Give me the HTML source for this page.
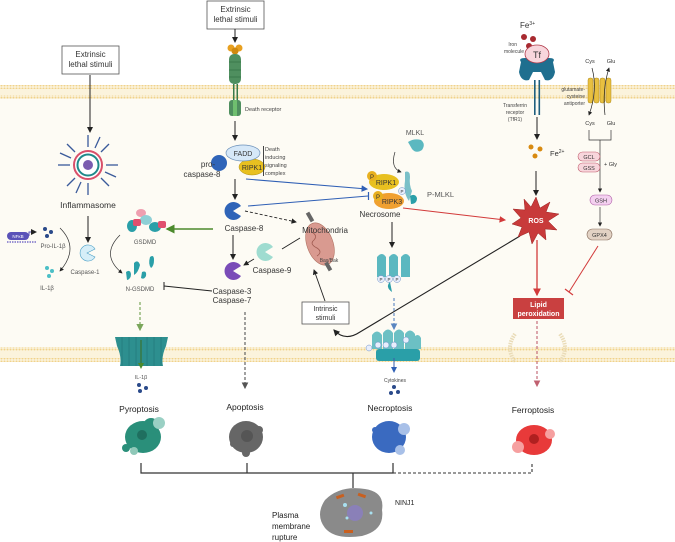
<!DOCTYPE html>
<html><head><meta charset="utf-8"><style>
html,body{margin:0;padding:0;background:#fff;}
svg{display:block;font-family:"Liberation Sans",sans-serif;}
</style></head><body>
<svg width="675" height="542" viewBox="0 0 675 542" xmlns="http://www.w3.org/2000/svg">
<defs>
<marker id="ak" markerWidth="6" markerHeight="6" refX="5" refY="3" orient="auto"><path d="M0,0 L6,3 L0,6 z" fill="#222"/></marker>
<marker id="ab" markerWidth="6" markerHeight="6" refX="5" refY="3" orient="auto"><path d="M0,0 L6,3 L0,6 z" fill="#2f5fb5"/></marker>
<marker id="ar" markerWidth="6" markerHeight="6" refX="5" refY="3" orient="auto"><path d="M0,0 L6,3 L0,6 z" fill="#d23a3a"/></marker>
<marker id="ag" markerWidth="6" markerHeight="6" refX="5" refY="3" orient="auto"><path d="M0,0 L6,3 L0,6 z" fill="#4c8a2c"/></marker>
<marker id="agd" markerWidth="6" markerHeight="6" refX="5" refY="3" orient="auto"><path d="M0,0 L6,3 L0,6 z" fill="#7aa65a"/></marker>
<marker id="abl" markerWidth="6" markerHeight="6" refX="5" refY="3" orient="auto"><path d="M0,0 L6,3 L0,6 z" fill="#5a86c0"/></marker>
<marker id="arl" markerWidth="6" markerHeight="6" refX="5" refY="3" orient="auto"><path d="M0,0 L6,3 L0,6 z" fill="#c06070"/></marker>
<marker id="ag2" markerWidth="6" markerHeight="6" refX="5" refY="3" orient="auto"><path d="M0,0 L6,3 L0,6 z" fill="#555"/></marker>
<pattern id="mem" width="3" height="3" patternUnits="userSpaceOnUse"><circle cx="1.5" cy="1.5" r="1" fill="#f1d28a"/></pattern>
</defs>

<!-- cell interior -->
<rect x="0" y="99" width="675" height="248" fill="#fdfbf4"/>
<!-- membranes -->
<rect x="0" y="85" width="675" height="14" fill="#fbf3dc"/>
<rect x="0" y="85" width="675" height="4" fill="url(#mem)"/>
<rect x="0" y="95" width="675" height="4" fill="url(#mem)"/>
<rect x="0" y="347" width="675" height="15" fill="#fbf3dc"/>
<rect x="0" y="347" width="675" height="4" fill="url(#mem)"/>
<rect x="0" y="358" width="675" height="4" fill="url(#mem)"/>

<!-- Extrinsic boxes -->
<rect x="62" y="46" width="57" height="28" fill="#fff" stroke="#555" stroke-width="0.8"/>
<text x="90.5" y="57" font-size="8" text-anchor="middle" fill="#333">Extrinsic</text>
<text x="90.5" y="67" font-size="8" text-anchor="middle" fill="#333">lethal stimuli</text>
<rect x="207" y="1" width="57" height="28" fill="#fff" stroke="#555" stroke-width="0.8"/>
<text x="235.5" y="12" font-size="8" text-anchor="middle" fill="#333">Extrinsic</text>
<text x="235.5" y="22" font-size="8" text-anchor="middle" fill="#333">lethal stimuli</text>

<line x1="90" y1="75" x2="90" y2="132" stroke="#222" stroke-width="1" marker-end="url(#ak)"/>
<line x1="235" y1="29" x2="235" y2="42" stroke="#222" stroke-width="1" marker-end="url(#ak)"/>

<!-- inflammasome -->
<g transform="translate(88,165)" stroke="#3a5a9a" stroke-width="1.3">
<line x1="0" y1="-30" x2="0" y2="-18"/><line x1="21" y1="-21" x2="13" y2="-13"/><line x1="30" y1="0" x2="18" y2="0"/><line x1="21" y1="21" x2="13" y2="13"/><line x1="0" y1="30" x2="0" y2="18"/><line x1="-21" y1="21" x2="-13" y2="13"/><line x1="-30" y1="0" x2="-18" y2="0"/><line x1="-21" y1="-21" x2="-13" y2="-13"/>
<line x1="12" y1="-28" x2="7" y2="-17"/><line x1="28" y1="12" x2="17" y2="7"/><line x1="-12" y1="28" x2="-7" y2="17"/><line x1="-28" y1="-12" x2="-17" y2="-7"/>
</g>
<circle cx="88" cy="165" r="14" fill="#fff" stroke="#d9506a" stroke-width="2"/>
<circle cx="88" cy="165" r="10.5" fill="none" stroke="#1f8a8a" stroke-width="2"/>
<circle cx="88" cy="165" r="5" fill="#7a5cb0"/>
<text x="88" y="208" font-size="8.5" text-anchor="middle" fill="#333">Inflammasome</text>
<line x1="88" y1="216" x2="88" y2="242" stroke="#222" stroke-width="1" marker-end="url(#ak)"/>
<path d="M87,253 m8,-4 A8,8 0 1 0 95,257 L87,253 z" fill="#d6eef8" stroke="#4a9fc6" stroke-width="0.6"/>
<text x="85" y="274" font-size="6" text-anchor="middle" fill="#555">Caspase-1</text>

<!-- NF-kB -->
<rect x="7" y="232" width="22" height="8" rx="4" fill="#5a52b8"/>
<text x="18" y="238" font-size="4.5" text-anchor="middle" fill="#fff">NFκB</text>
<path d="M29,236 L29,232 L36,232" stroke="#5a52b8" fill="none" stroke-width="1" marker-end="url(#ak)"/>
<path d="M7,242 L36,242" stroke="#7a70c8" stroke-width="1.5" stroke-dasharray="1.5,1"/>
<circle cx="45" cy="229" r="2" fill="#2a4a8a"/><circle cx="51" cy="232" r="2" fill="#2a4a8a"/><circle cx="47" cy="236" r="2" fill="#2a4a8a"/>
<text x="53" y="248" font-size="6" text-anchor="middle" fill="#555">Pro-IL-1β</text>
<path d="M60,228 Q80,248 60,271" fill="none" stroke="#333" stroke-width="0.7" marker-end="url(#ak)"/>
<circle cx="47" cy="268" r="2" fill="#4bbfc6"/><circle cx="52" cy="271" r="2" fill="#4bbfc6"/><circle cx="49" cy="276" r="2" fill="#4bbfc6"/>
<text x="47" y="290" font-size="6" text-anchor="middle" fill="#555">IL-1β</text>

<!-- GSDMD -->
<ellipse cx="141" cy="213" rx="5" ry="4" fill="#ef9fb0"/>
<ellipse cx="146" cy="220" rx="6" ry="5" fill="#8ed0d6"/>
<ellipse cx="132" cy="226" rx="5" ry="6" fill="#2a9fa8"/><rect x="133" y="219" width="8" height="7" rx="2" fill="#e0506e"/>
<ellipse cx="155" cy="227" rx="6" ry="5" fill="#2a9fa8"/><rect x="158" y="221" width="8" height="7" rx="2" fill="#e0506e"/>
<text x="145" y="244" font-size="6" text-anchor="middle" fill="#555">GSDMD</text>
<path d="M120,235 Q100,255 122,273" fill="none" stroke="#333" stroke-width="0.7" marker-end="url(#ak)"/>
<path d="M134,263 q4,-4 6,2 q-2,8 -6,10" fill="#2a9fa8"/>
<path d="M150,257 q4,-3 4,3 q0,6 -3,8 q-3,-4 -1,-11z" fill="#2a9fa8"/>
<path d="M126,272 q4,-3 5,2 q0,5 -4,6z" fill="#2a9fa8"/>
<path d="M142,272 q5,-2 4,4 q-2,4 -5,2z" fill="#2a9fa8"/>
<text x="140" y="291" font-size="6" text-anchor="middle" fill="#555">N-GSDMD</text>
<line x1="213" y1="229" x2="167" y2="229" stroke="#4c8a2c" stroke-width="1.5" marker-end="url(#ag)"/>
<line x1="212" y1="291" x2="164" y2="286" stroke="#222" stroke-width="0.9"/>
<line x1="164" y1="282" x2="164" y2="290" stroke="#222" stroke-width="1"/>
<line x1="140" y1="302" x2="140" y2="330" stroke="#7aa65a" stroke-width="1.2" stroke-dasharray="3,2" marker-end="url(#agd)"/>

<!-- GSDMD pore -->
<path d="M115,337 L168,337 L166,346 Q161,357 163,366 L120,366 Q122,357 117,346 z" fill="#2d8f8f"/>
<g stroke="#1f6f70" stroke-width="0.5"><line x1="122" y1="337" x2="122" y2="366"/><line x1="129" y1="337" x2="129" y2="366"/><line x1="136" y1="337" x2="136" y2="366"/><line x1="147" y1="337" x2="147" y2="366"/><line x1="154" y1="337" x2="154" y2="366"/><line x1="161" y1="337" x2="161" y2="366"/></g>
<line x1="141" y1="340" x2="141" y2="368" stroke="#3d6e1e" stroke-width="1" marker-end="url(#ag)"/>
<text x="141" y="379" font-size="5.5" text-anchor="middle" fill="#555">IL-1β</text>
<circle cx="139" cy="385" r="2" fill="#2a4a8a"/><circle cx="146" cy="388" r="2" fill="#2a4a8a"/><circle cx="140" cy="391" r="2" fill="#2a4a8a"/>

<!-- Death receptor -->
<circle cx="231" cy="48" r="3.5" fill="#e8a020"/><circle cx="239" cy="48" r="3.5" fill="#e8a020"/><circle cx="235" cy="51" r="3.5" fill="#d08a10"/>
<rect x="229" y="54" width="12" height="30" rx="5" fill="#4f8f5f"/>
<g stroke="#2e6b3e" stroke-width="0.6"><line x1="229" y1="62" x2="241" y2="62"/><line x1="229" y1="70" x2="241" y2="70"/><line x1="229" y1="77" x2="241" y2="77"/></g>
<rect x="233" y="84" width="1.5" height="16" fill="#3a7a4a"/><rect x="236.5" y="84" width="1.5" height="16" fill="#3a7a4a"/>
<rect x="229" y="100" width="12" height="16" rx="3" fill="#4f8f5f"/>
<rect x="233" y="100" width="4" height="16" fill="#6fbf6f"/>
<text x="245" y="111" font-size="5.5" fill="#444">Death receptor</text>
<line x1="235" y1="121" x2="235" y2="140" stroke="#222" stroke-width="1" marker-end="url(#ak)"/>
<circle cx="219" cy="163" r="8" fill="#2f64b8"/>
<ellipse cx="252" cy="167" rx="13" ry="8" fill="#e8c020" stroke="#b09010" stroke-width="0.5"/>
<text x="252" y="170" font-size="7" text-anchor="middle" fill="#333">RIPK1</text>
<ellipse cx="243" cy="153" rx="17" ry="8" fill="#d6e8f8" stroke="#6a8fb8" stroke-width="0.7"/>
<text x="243" y="156" font-size="7" text-anchor="middle" fill="#333">FADD</text>
<text x="208" y="167" font-size="8" text-anchor="middle" fill="#333">pro-</text>
<text x="202" y="177" font-size="8" text-anchor="middle" fill="#333">caspase-8</text>
<line x1="263.5" y1="146" x2="263.5" y2="176" stroke="#444" stroke-width="1"/>
<text x="265" y="151" font-size="5.5" fill="#444">Death</text>
<text x="265" y="159" font-size="5.5" fill="#444">inducing</text>
<text x="265" y="167" font-size="5.5" fill="#444">signaling</text>
<text x="265" y="175" font-size="5.5" fill="#444">complex</text>
<line x1="235" y1="179" x2="235" y2="199" stroke="#222" stroke-width="1" marker-end="url(#ak)"/>
<!-- blue lines -->
<line x1="246" y1="179" x2="367" y2="189" stroke="#2f5fb5" stroke-width="1.1" marker-end="url(#ab)"/>
<line x1="248" y1="206" x2="368" y2="196" stroke="#2f5fb5" stroke-width="1.1"/>
<line x1="368.5" y1="192" x2="368.5" y2="200" stroke="#2f5fb5" stroke-width="1.2"/>

<!-- Caspase-8 -->
<path d="M233,211 m8,-5 A9,9 0 1 0 241,216 L233,211 z" fill="#2f64b8"/>
<text x="244" y="231" font-size="8" text-anchor="middle" fill="#333">Caspase-8</text>
<line x1="245" y1="211" x2="296" y2="222" stroke="#222" stroke-width="0.9" stroke-dasharray="3,2" marker-end="url(#ak)"/>
<line x1="233" y1="235" x2="233" y2="259" stroke="#222" stroke-width="1" marker-end="url(#ak)"/>
<path d="M233,271 m8,-5 A9,9 0 1 0 241,276 L233,271 z" fill="#7a4cb8"/>
<text x="232" y="294" font-size="8" text-anchor="middle" fill="#333">Caspase-3</text>
<text x="232" y="303" font-size="8" text-anchor="middle" fill="#333">Caspase-7</text>
<path d="M265,252 m8,-5 A9,9 0 1 0 273,257 L265,252 z" fill="#9fdcd0"/>
<text x="272" y="273" font-size="8" text-anchor="middle" fill="#333">Caspase-9</text>
<line x1="254" y1="259" x2="244" y2="265" stroke="#222" stroke-width="0.9" marker-end="url(#ak)"/>
<line x1="300" y1="238" x2="282" y2="249" stroke="#222" stroke-width="0.9"/>
<line x1="245" y1="312" x2="245" y2="388" stroke="#555" stroke-width="1.1" stroke-dasharray="3,2" marker-end="url(#ag2)"/>

<!-- Mitochondria -->
<ellipse cx="320" cy="244" rx="13" ry="22" transform="rotate(-20 320 244)" fill="#d99a90" stroke="#b07060" stroke-width="0.6"/>
<path d="M312,232 q6,4 2,8 q-5,4 3,8 q6,4 0,8" fill="none" stroke="#a05a50" stroke-width="0.8"/>
<rect x="308" y="212" width="4" height="10" fill="#666" transform="rotate(-30 310 217)"/>
<rect x="326" y="262" width="4" height="9" fill="#666" transform="rotate(-30 328 266)"/>
<text x="325" y="233" font-size="8" text-anchor="middle" fill="#333">Mitochondria</text>
<text x="329" y="262" font-size="5" text-anchor="middle" fill="#444">Bax/Bak</text>
<rect x="302" y="302" width="47" height="22" fill="#fff" stroke="#555" stroke-width="0.8"/>
<text x="325.5" y="311" font-size="7" text-anchor="middle" fill="#333">Intrinsic</text>
<text x="325.5" y="320" font-size="7" text-anchor="middle" fill="#333">stimuli</text>
<line x1="325" y1="301" x2="314" y2="270" stroke="#222" stroke-width="0.9" marker-end="url(#ak)"/>
<path d="M520,236 L360,332 Q345,342 334,330" fill="none" stroke="#222" stroke-width="1.1" marker-end="url(#ak)"/>

<!-- Necrosome -->
<text x="415" y="135" font-size="7" text-anchor="middle" fill="#555">MLKL</text>
<path d="M408,142 q6,-4 13,-2 q5,4 1,10 q-6,4 -10,-1z" fill="#5bb8c0"/>
<path d="M395,152 Q390,168 401,172" fill="none" stroke="#333" stroke-width="0.7" marker-end="url(#ak)"/>
<path d="M405,172 q5,-2 5,5 q-1,8 2,14 l-3,10 q-6,-8 -4,-20z" fill="#7ac0c8"/>
<path d="M410,196 q5,-3 7,2 q0,6 -6,6z" fill="#2a9fa8"/>
<text x="427" y="197" font-size="7.5" fill="#555">P-MLKL</text>
<ellipse cx="389" cy="201" rx="15" ry="8" fill="#f0a030"/>
<text x="392" y="204" font-size="7" text-anchor="middle" fill="#333">RIPK3</text>
<circle cx="378" cy="196" r="5" fill="#e8b020"/><text x="378" y="199" font-size="6" text-anchor="middle" fill="#333">P</text>
<ellipse cx="384" cy="182" rx="15" ry="8" fill="#e8c020"/>
<text x="386" y="185" font-size="7" text-anchor="middle" fill="#333">RIPK1</text>
<circle cx="372" cy="176" r="5" fill="#e8b020"/><text x="372" y="179" font-size="6" text-anchor="middle" fill="#333">P</text>
<circle cx="402" cy="191" r="3.5" fill="#e8eefc" stroke="#6a8fc8" stroke-width="0.5"/><text x="402" y="193" font-size="4.5" text-anchor="middle" fill="#333">P</text>
<text x="380" y="217" font-size="8" text-anchor="middle" fill="#333">Necrosome</text>
<line x1="403" y1="208" x2="505" y2="220" stroke="#d23a3a" stroke-width="1.1" marker-end="url(#ar)"/>
<line x1="392" y1="222" x2="392" y2="247" stroke="#222" stroke-width="1" marker-end="url(#ak)"/>
<g fill="#5bb8c0"><path d="M377,257 q5,-6 9,0 v20 h-9z"/><path d="M389,257 q5,-6 9,0 v20 h-9z"/><path d="M401,257 q5,-6 9,0 v20 h-9z"/></g>
<g font-size="4.5" text-anchor="middle" fill="#333"><circle cx="381" cy="279" r="3.5" fill="#e8eefc" stroke="#6a8fc8" stroke-width="0.5"/><text x="381" y="281">P</text><circle cx="389" cy="279" r="3.5" fill="#e8eefc" stroke="#6a8fc8" stroke-width="0.5"/><text x="389" y="281">P</text><circle cx="397" cy="279" r="3.5" fill="#e8eefc" stroke="#6a8fc8" stroke-width="0.5"/><text x="397" y="281">P</text></g>
<path d="M390,282 q-5,5 2,10" fill="#2a9fa8"/>
<line x1="394" y1="298" x2="394" y2="329" stroke="#5a86c0" stroke-width="1.1" stroke-dasharray="3,2" marker-end="url(#abl)"/>
<!-- MLKL pore -->
<g fill="#6cc0c4"><path d="M372,335 q5,-7 10,0 v14 h-10z"/><path d="M383,333 q5,-7 10,0 v16 h-10z"/><path d="M394,333 q5,-7 10,0 v16 h-10z"/><path d="M405,334 q5,-7 10,0 v15 h-10z"/><path d="M413,338 q5,-6 8,0 v11 h-8z"/></g>
<rect x="376" y="349" width="44" height="12" rx="3" fill="#2a9fa8"/>
<g font-size="4" text-anchor="middle" fill="#333"><circle cx="369" cy="348" r="3" fill="#e8eefc" stroke="#6a8fc8" stroke-width="0.5"/><circle cx="378" cy="345" r="3" fill="#e8eefc" stroke="#6a8fc8" stroke-width="0.5"/><circle cx="386" cy="345" r="3" fill="#e8eefc" stroke="#6a8fc8" stroke-width="0.5"/><circle cx="394" cy="345" r="3" fill="#e8eefc" stroke="#6a8fc8" stroke-width="0.5"/><circle cx="406" cy="340" r="3" fill="#e8eefc" stroke="#6a8fc8" stroke-width="0.5"/></g>
<line x1="394" y1="358" x2="394" y2="372" stroke="#3a5ea8" stroke-width="1" marker-end="url(#ab)"/>
<text x="395" y="382" font-size="5" text-anchor="middle" fill="#444">Cytokines</text>
<circle cx="394" cy="387" r="2" fill="#2a4a8a"/><circle cx="391" cy="393" r="2" fill="#2a4a8a"/><circle cx="398" cy="392" r="2" fill="#2a4a8a"/>

<!-- Iron -->
<text x="520" y="28" font-size="8" fill="#333">Fe<tspan font-size="5" dy="-3">3+</tspan></text>
<circle cx="524" cy="37" r="3" fill="#a82a30"/><circle cx="533" cy="39" r="3" fill="#a82a30"/><circle cx="529" cy="46" r="3" fill="#a82a30"/>
<text x="517" y="46" font-size="5" text-anchor="end" fill="#444">Iron</text>
<text x="524" y="53" font-size="5" text-anchor="end" fill="#444">molecule</text>
<path d="M521,62 q-3,-4 4,-4 l24,0 q7,0 4,4 l2,10 q-2,10 -10,8 l-4,-8 h-8 l-4,8 q-8,2 -10,-8z" fill="#1f6f8f"/>
<ellipse cx="537" cy="54" rx="12" ry="9" fill="#f8d6dc" stroke="#b03a4a" stroke-width="0.8"/>
<text x="537" y="58" font-size="9" text-anchor="middle" fill="#333">Tf</text>
<rect x="534" y="80" width="1.6" height="35" fill="#1f5f7f"/><rect x="538.5" y="80" width="1.6" height="35" fill="#1f5f7f"/>
<text x="515" y="107" font-size="5" text-anchor="middle" fill="#444">Transferrin</text>
<text x="515" y="114" font-size="5" text-anchor="middle" fill="#444">receptor</text>
<text x="515" y="121" font-size="5" text-anchor="middle" fill="#444">(TfR1)</text>
<line x1="537" y1="117" x2="537" y2="139" stroke="#222" stroke-width="1" marker-end="url(#ak)"/>
<circle cx="531" cy="147" r="2.5" fill="#d88a10"/><circle cx="540" cy="149" r="2.5" fill="#d88a10"/><circle cx="535" cy="156" r="2.5" fill="#d88a10"/>
<text x="550" y="156" font-size="7.5" fill="#333">Fe<tspan font-size="5" dy="-3">2+</tspan></text>
<line x1="536" y1="171" x2="536" y2="195" stroke="#222" stroke-width="1" marker-end="url(#ak)"/>
<polygon points="536,197 540,208 550,202 546,212 559,214 548,221 557,230 545,229 546,240 538,233 532,244 529,232 518,237 522,227 512,224 521,218 513,209 525,210 524,199 531,207" fill="#c83a3a" stroke="#9a2020" stroke-width="0.5"/>
<text x="536" y="223" font-size="7" font-weight="bold" text-anchor="middle" fill="#fff">ROS</text>
<line x1="537" y1="240" x2="537" y2="295" stroke="#d23a3a" stroke-width="1.3" marker-end="url(#ar)"/>
<rect x="513" y="298" width="51" height="21" fill="#c94040"/>
<text x="538.5" y="307" font-size="7" font-weight="bold" text-anchor="middle" fill="#fff">Lipid</text>
<text x="538.5" y="316" font-size="7" font-weight="bold" text-anchor="middle" fill="#fff">peroxidation</text>
<line x1="598" y1="246" x2="569" y2="292" stroke="#d23a3a" stroke-width="1"/>
<line x1="565" y1="289" x2="573" y2="295" stroke="#d23a3a" stroke-width="1.2"/>
<!-- faded pore -->
<path d="M515,334 q-10,14 0,28 M560,334 q10,14 0,28" fill="none" stroke="#eadcb8" stroke-width="4" stroke-dasharray="1.5,1"/>
<line x1="537" y1="321" x2="537" y2="386" stroke="#c06070" stroke-width="1.1" stroke-dasharray="3,2" marker-end="url(#arl)"/>

<!-- antiporter -->
<g fill="#e8c040" stroke="#b08a20" stroke-width="0.5"><rect x="588" y="78" width="5" height="25" rx="2"/><rect x="594" y="78" width="5" height="25" rx="2"/><rect x="600" y="78" width="5" height="25" rx="2"/><rect x="606" y="78" width="5" height="25" rx="2"/></g>
<text x="590" y="63" font-size="5.5" text-anchor="middle" fill="#333">Cys</text>
<text x="611" y="63" font-size="5.5" text-anchor="middle" fill="#333">Glu</text>
<path d="M592,68 Q598,90 589,115" fill="none" stroke="#222" stroke-width="0.7" marker-end="url(#ak)"/>
<path d="M605,115 Q602,90 609,68" fill="none" stroke="#222" stroke-width="0.7" marker-end="url(#ak)"/>
<text x="585" y="91" font-size="5" text-anchor="end" fill="#444">glutamate-</text>
<text x="585" y="98" font-size="5" text-anchor="end" fill="#444">cysteine</text>
<text x="585" y="105" font-size="5" text-anchor="end" fill="#444">antiporter</text>
<text x="590" y="125" font-size="5.5" text-anchor="middle" fill="#333">Cys</text>
<text x="611" y="125" font-size="5.5" text-anchor="middle" fill="#333">Glu</text>
<path d="M589,130 V140 H611 V130" fill="none" stroke="#333" stroke-width="0.7"/>
<line x1="600" y1="140" x2="600" y2="192" stroke="#333" stroke-width="0.7" marker-end="url(#ak)"/>
<rect x="578" y="152" width="22" height="9" rx="4.5" fill="#f8d6dc" stroke="#c05a6a" stroke-width="0.6"/>
<text x="589" y="159" font-size="5.5" text-anchor="middle" fill="#333">GCL</text>
<rect x="578" y="163" width="22" height="9" rx="4.5" fill="#f8d6dc" stroke="#c05a6a" stroke-width="0.6"/>
<text x="589" y="170" font-size="5.5" text-anchor="middle" fill="#333">GSS</text>
<text x="604" y="166" font-size="5.5" fill="#333">+ Gly</text>
<rect x="590" y="195" width="22" height="10" rx="5" fill="#f4d0f0" stroke="#b060a8" stroke-width="0.6"/>
<text x="601" y="202.5" font-size="5.5" text-anchor="middle" fill="#333">GSH</text>
<line x1="600" y1="207" x2="600" y2="226" stroke="#333" stroke-width="0.7" marker-end="url(#ak)"/>
<rect x="587" y="229" width="25" height="11" rx="5.5" fill="#e2d2c4" stroke="#8a7060" stroke-width="0.6"/>
<text x="599.5" y="237" font-size="5.5" text-anchor="middle" fill="#333">GPX4</text>

<!-- death labels -->
<g font-size="8.5" text-anchor="middle" fill="#222">
<text x="139" y="412">Pyroptosis</text><text x="245" y="410">Apoptosis</text><text x="390" y="411">Necroptosis</text><text x="533" y="413">Ferroptosis</text></g>
<!-- cells -->
<ellipse cx="143" cy="437" rx="18" ry="16" fill="#2a8f7a"/><circle cx="151" cy="426" r="8" fill="#2a8f7a"/><circle cx="159" cy="423" r="6" fill="#9ad0c4"/><circle cx="126" cy="448" r="4" fill="#2a8f7a"/><circle cx="134" cy="451" r="4" fill="#8fc8b8"/><circle cx="142" cy="435" r="5" fill="#1f6f5f"/>
<ellipse cx="246" cy="437" rx="17" ry="16" fill="#666"/><circle cx="259" cy="430" r="4" fill="#666"/><circle cx="246" cy="453" r="4" fill="#666"/><circle cx="233" cy="444" r="3" fill="#666"/><circle cx="247" cy="436" r="6" fill="#555"/>
<ellipse cx="389" cy="437" rx="17" ry="16" fill="#3a6ac0"/><circle cx="404" cy="429" r="6" fill="#a8c0e8"/><circle cx="400" cy="450" r="5" fill="#a8c0e8"/><circle cx="375" cy="430" r="3" fill="#3a6ac0"/>
<ellipse cx="534" cy="440" rx="18" ry="15" fill="#e83a3a"/><circle cx="518" cy="447" r="6" fill="#f6a0a0"/><circle cx="550" cy="434" r="5" fill="#f6a0a0"/><circle cx="534" cy="439" r="5" fill="#b02020"/>

<!-- bracket -->
<path d="M141,463 V473 H393 V463 M247,463 V473 M353,473 V488" fill="none" stroke="#333" stroke-width="1.2"/>
<path d="M393,473 H532 V463" fill="none" stroke="#333" stroke-width="1.1" stroke-dasharray="3,2"/>
<!-- rupture cell -->
<path d="M325,500 Q340,485 365,489 Q385,492 382,510 Q385,530 362,536 Q335,540 325,528 Q315,515 325,500z" fill="#8a8a8a"/>
<circle cx="355" cy="513" r="8" fill="#8a80b8"/>
<circle cx="345" cy="505" r="2" fill="#a8e0f0"/><circle cx="371" cy="513" r="1.5" fill="#a8e0f0"/><circle cx="347" cy="518" r="1.5" fill="#a8e0f0"/>
<g fill="#c86020" font-size="0"><rect x="336" y="495" width="8" height="3" transform="rotate(-20 340 496)"/><rect x="358" y="494" width="8" height="3" transform="rotate(20 362 495)"/><rect x="344" y="530" width="9" height="3"/></g>
<text x="395" y="505" font-size="7" fill="#222">NINJ1</text>
<text x="272" y="518" font-size="8" fill="#222">Plasma</text>
<text x="272" y="529" font-size="8" fill="#222">membrane</text>
<text x="272" y="540" font-size="8" fill="#222">rupture</text>
</svg>
</body></html>
